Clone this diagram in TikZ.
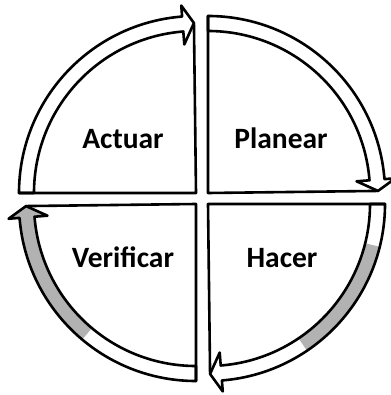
\documentclass[tikz,border=0pt]{standalone}
\usepackage{fontspec}
\setmainfont{Carlito}
\usetikzlibrary{calc}
\tikzset{
  edge/.style={draw=black, line width=2.6pt, line join=round, line cap=round},
  bandgray/.style={fill=gray!60},
  lbl/.style={font=\bfseries\fontsize{29.5}{32}\selectfont, anchor=base, inner sep=0pt}
}
\def\Rout{177}
\def\Rinn{162}
\def\Rmid{170}
\def\Rhi{188}
\def\Rlo{149}
\newcommand\bandpath{($(c)+(\s:\Rout)$) arc[start angle=\s, end angle=\b, radius=\Rout] -- ($(c)+(\b:\Rhi)$) -- ($(c)+(\t:\Rmid)$) -- ($(c)+(\b:\Rlo)$) -- ($(c)+(\b:\Rinn)$) arc[start angle=\b, end angle=\s, radius=\Rinn] -- cycle}
\newcommand\pdcaQuad[5]{%
  \coordinate (c) at (#1,#2);
  \pgfmathsetmacro\s{#3}
  \pgfmathsetmacro\b{#3+85.5}
  \pgfmathsetmacro\t{#3+89.3}
  \fill[white] \bandpath;
  \begin{scope}
    \clip \bandpath;
    \fill[bandgray] (c) -- ($(c)+(#3+#4:200)$) arc[start angle=#3+#4, end angle=#3+#5, radius=200] -- cycle;
  \end{scope}
  \draw[edge] \bandpath;
  \draw[edge] ($(c)+(\s:\Rout)$) -- (c) -- ($(c)+(\t:\Rmid)$);
}
\begin{document}
\begin{tikzpicture}[x=1pt,y=-1pt]
\useasboundingbox (0,0) rectangle (390,395);
\fill[white] (0,0) rectangle (390,395);
% Actuar (top left)
\pdcaQuad{196}{193}{180}{0}{0}
% Planear (top right)
\pdcaQuad{208}{193}{270}{0}{0}
% Hacer (bottom right)
\pdcaQuad{208}{204}{0}{14}{56}
% Verificar (bottom left)
\pdcaQuad{196}{204}{90}{40}{90}
\node[lbl] (actuar) at (123,149) {Actuar};
\node[lbl] (planear) at (281,149) {Planear};
\node[lbl] (verificar) at (123,267) {Verificar};
\node[lbl] (hacer) at (282,267) {Hacer};
\end{tikzpicture}
\end{document}
